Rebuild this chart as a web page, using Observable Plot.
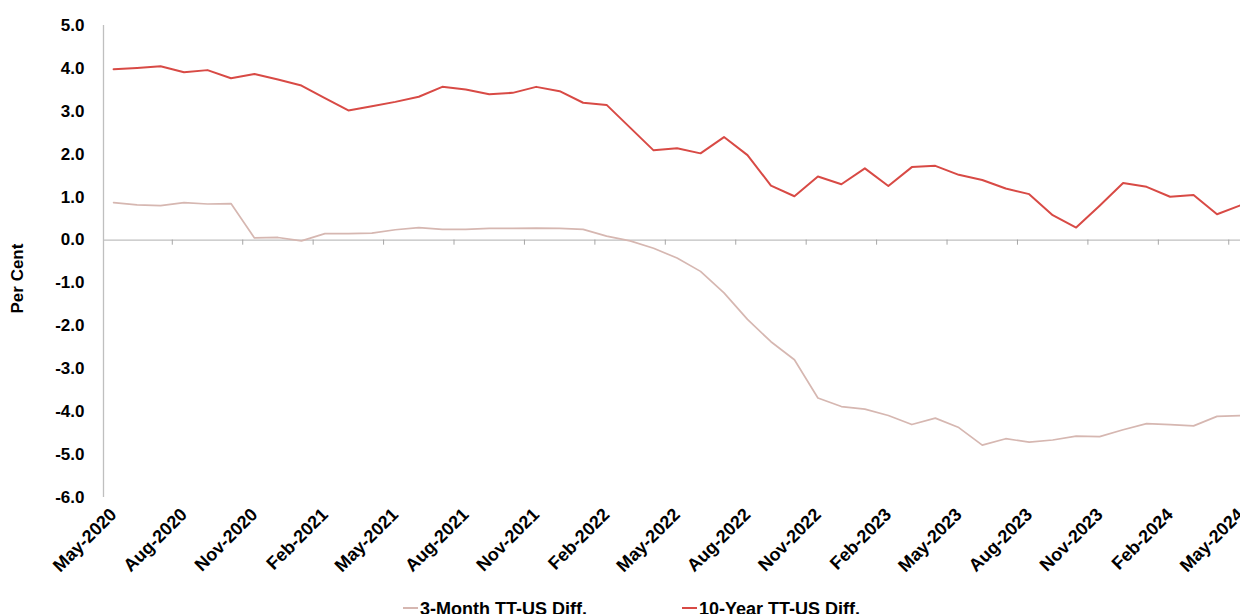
<!DOCTYPE html>
<html>
<head>
<meta charset="utf-8">
<script src="https://cdn.jsdelivr.net/npm/d3@7"></script>
<script src="https://cdn.jsdelivr.net/npm/@observablehq/plot@0.6"></script>
<style>
  html, body { margin: 0; padding: 0; background: #fff; overflow: hidden; }
  #chart svg { display: block; }
  #legend { position: relative; height: 14px; font: bold 18px "Liberation Sans", Arial, sans-serif; line-height: 18px; color: #000; white-space: nowrap; }
  #legend .item { position: absolute; top: 0; }
  #legend .sw { display: inline-block; width: 15px; height: 2px; vertical-align: 6px; margin-right: 2px; }
</style>
</head>
<body>
<div id="chart"></div>
<div id="legend"></div>
<script>
const months = ["May-2020","Jun-2020","Jul-2020","Aug-2020","Sep-2020","Oct-2020","Nov-2020","Dec-2020",
  "Jan-2021","Feb-2021","Mar-2021","Apr-2021","May-2021","Jun-2021","Jul-2021","Aug-2021","Sep-2021","Oct-2021","Nov-2021","Dec-2021",
  "Jan-2022","Feb-2022","Mar-2022","Apr-2022","May-2022","Jun-2022","Jul-2022","Aug-2022","Sep-2022","Oct-2022","Nov-2022","Dec-2022",
  "Jan-2023","Feb-2023","Mar-2023","Apr-2023","May-2023","Jun-2023","Jul-2023","Aug-2023","Sep-2023","Oct-2023","Nov-2023","Dec-2023",
  "Jan-2024","Feb-2024","Mar-2024","Apr-2024","May-2024"];

const threeMonth = [0.87,0.82,0.80,0.87,0.84,0.85,0.05,0.06,-0.02,0.15,
  0.15,0.16,0.24,0.29,0.25,0.25,0.27,0.27,0.28,0.27,
  0.25,0.09,-0.02,-0.19,-0.42,-0.73,-1.23,-1.85,-2.37,-2.79,
  -3.68,-3.88,-3.94,-4.09,-4.30,-4.15,-4.37,-4.78,-4.63,-4.71,
  -4.66,-4.57,-4.58,-4.42,-4.28,-4.30,-4.33,-4.11,-4.09];

const tenYear = [3.98,4.01,4.05,3.91,3.96,3.77,3.87,3.74,3.60,3.31,
  3.02,3.12,3.22,3.34,3.57,3.51,3.40,3.43,3.57,3.47,
  3.20,3.15,2.62,2.09,2.14,2.02,2.40,1.98,1.27,1.02,
  1.48,1.30,1.67,1.26,1.70,1.73,1.52,1.40,1.20,1.07,
  0.58,0.29,0.80,1.33,1.24,1.01,1.05,0.60,0.81];

const tickLabels = ["May-2020","Aug-2020","Nov-2020","Feb-2021","May-2021","Aug-2021","Nov-2021","Feb-2022",
  "May-2022","Aug-2022","Nov-2022","Feb-2023","May-2023","Aug-2023","Nov-2023","Feb-2024","May-2024"];
const yTicks = [5,4,3,2,1,0,-1,-2,-3,-4,-5,-6];

const seriesNames = ["3-Month TT-US Diff.", "10-Year TT-US Diff."];
const colors = ["#d6b7b1", "#d84a45"];

const data = months.map((m, i) => ({i, m, v3: threeMonth[i], v10: tenYear[i]}));
const labelIdx = tickLabels.map(l => months.indexOf(l));
// category boundaries every three months (between categories)
const boundaries = labelIdx.slice(0, -1).map(i => i + 2.5);

const xDomain = [-0.43, months.length - 1];
const yDomain = [-6, 5];
const axisGray = "#bfbfbf";

const chart = Plot.plot({
  width: 1240,
  height: 600,
  marginLeft: 103,
  marginRight: 0,
  marginTop: 25,
  marginBottom: 103,
  style: {fontFamily: "'Liberation Sans', Arial, sans-serif", fontWeight: "bold", fontSize: "17px", color: "#000", background: "#fff"},
  x: {type: "linear", domain: xDomain},
  y: {domain: yDomain},
  marks: [
    Plot.ruleX([xDomain[0]], {y1: yDomain[0], y2: yDomain[1], stroke: axisGray, strokeWidth: 1.3}),
    Plot.ruleY([0], {stroke: axisGray, strokeWidth: 1.3}),
    Plot.ruleX(boundaries, {y1: 0, y2: -0.12, stroke: "#a6a6a6", strokeWidth: 1}),
    Plot.line(data, {x: "i", y: "v3", stroke: colors[0], strokeWidth: 1.7}),
    Plot.line(data, {x: "i", y: "v10", stroke: colors[1], strokeWidth: 2}),
    Plot.axisY({ticks: yTicks, tickFormat: d => d.toFixed(1), tickSize: 0, tickPadding: 19, label: null, fontSize: 17}),
    Plot.axisX({ticks: labelIdx, tickFormat: i => months[i], tickRotate: -45, tickSize: 0, tickPadding: 14, label: null, fontSize: 18}),
    Plot.text(["Per Cent"], {frameAnchor: "left", text: d => d, rotate: -90, dx: -85.5, dy: 52, fontSize: 17, fontWeight: "bold", fill: "#000"})
  ]
});
document.getElementById("chart").appendChild(chart);

const legend = document.getElementById("legend");
const lefts = [403, 682];
seriesNames.forEach((name, k) => {
  const it = document.createElement("span");
  it.className = "item";
  it.style.left = lefts[k] + "px";
  const sw = document.createElement("span");
  sw.className = "sw";
  sw.style.background = colors[k];
  it.appendChild(sw);
  it.appendChild(document.createTextNode(name));
  legend.appendChild(it);
});
</script>
</body>
</html>
